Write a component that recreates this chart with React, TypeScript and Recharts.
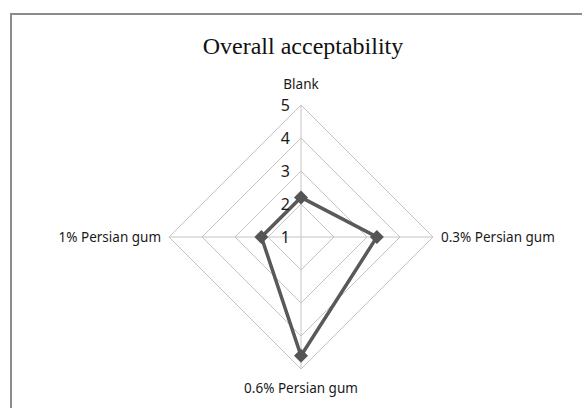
import { RadarChart, Radar, PolarGrid, PolarAngleAxis, PolarRadiusAxis } from "recharts"

const categories = ["Blank", "0.3% Persian gum", "0.6% Persian gum", "1% Persian gum"]
const acceptability = [2.2, 3.3, 4.6, 2.2]
const radiusTicks = [1, 2, 3, 4, 5]

const data = categories.map((name, i) => ({ name, value: acceptability[i] }))

const labelFont = "'Noto Sans', 'Open Sans', sans-serif"

function AngleTick(props: any) {
  const { x, y, payload } = props
  const angle = Math.round(payload.coordinate)
  let anchor: "start" | "middle" | "end" = "middle"
  let dy = 5
  if (angle === 90) dy = -8
  else if (angle === -90 || angle === 270) dy = 16
  else if (angle === 0) anchor = "start"
  else anchor = "end"
  return (
    <text x={x} y={y + dy} textAnchor={anchor} fontSize={13.5} fontFamily={labelFont} fill="#1a1a1a">
      {payload.value}
    </text>
  )
}

function RadiusTick(props: any) {
  const { x, y, payload } = props
  return (
    <text x={x - 11} y={y + 6} textAnchor="end" fontSize={16} fontFamily={labelFont} fill="#1a1a1a">
      {payload.value}
    </text>
  )
}

function Diamond(props: any) {
  const { cx, cy } = props
  const s = 7
  return <path d={`M${cx},${cy - s} L${cx + s},${cy} L${cx},${cy + s} L${cx - s},${cy} Z`} fill="#555" />
}

export default function App() {
  return (
    <div style={{ position: "absolute", left: 0, top: 0, width: 582, height: 408, background: "#fff", overflow: "hidden" }}>
      <div
        style={{
          position: "absolute",
          left: 10,
          top: 13,
          width: 620,
          height: 500,
          borderLeft: "2px solid #8c8c8c",
          borderTop: "2px solid #8c8c8c",
        }}
      />
      <div
        style={{
          position: "absolute",
          left: 0,
          top: 33,
          width: 606,
          textAlign: "center",
          fontFamily: "'Liberation Serif', 'Times New Roman', serif",
          fontSize: 24,
          color: "#111",
        }}
      >
        Overall acceptability
      </div>
      <div style={{ position: "absolute", left: 0, top: 0 }}>
        <RadarChart width={582} height={408} data={data} cx={301} cy={237} outerRadius={132}>
          <PolarGrid gridType="polygon" stroke="#c4c4c4" strokeWidth={1} />
          <PolarAngleAxis dataKey="name" axisLine={false} tickLine={false} tick={<AngleTick />} />
          <PolarRadiusAxis
            angle={90}
            domain={[1, 5]}
            ticks={radiusTicks as any}
            tickCount={5}
            axisLine={false}
            tickLine={false}
            tick={<RadiusTick />}
          />
          <Radar
            dataKey="value"
            stroke="#595959"
            strokeWidth={3.5}
            fill="none"
            fillOpacity={0}
            dot={<Diamond />}
            isAnimationActive={false}
          />
        </RadarChart>
      </div>
    </div>
  )
}
